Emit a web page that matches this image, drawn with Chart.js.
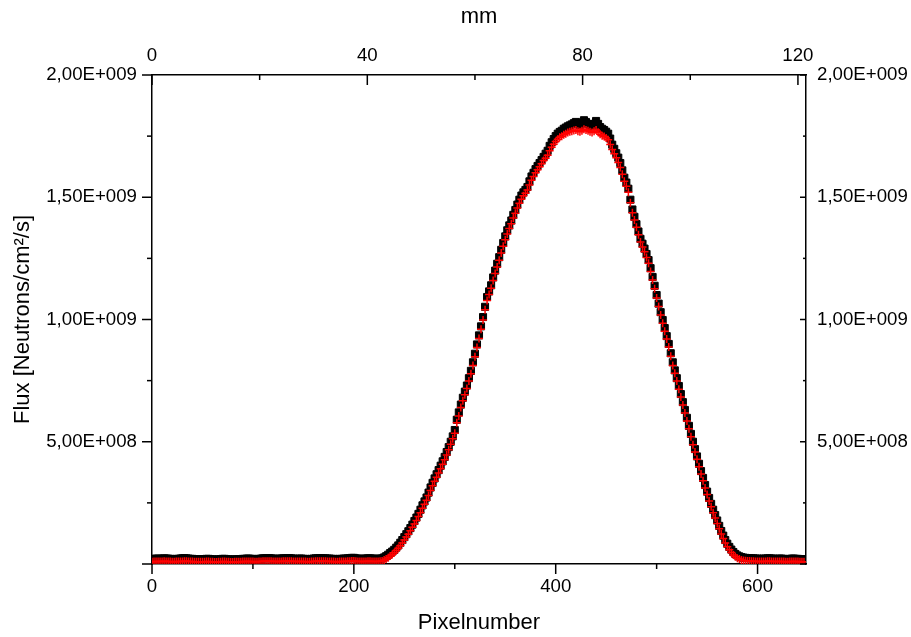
<!DOCTYPE html>
<html>
<head>
<meta charset="utf-8">
<script src="https://cdn.jsdelivr.net/npm/chart.js@4/dist/chart.umd.min.js"></script>
<style>
  html, body { margin: 0; padding: 0; background: #fff; }
  #wrap { width: 911px; height: 637px; position: relative; }
</style>
</head>
<body>
<div id="wrap"><canvas id="c"></canvas></div>
<script>
// ---- data ----
const pixels = [
0,2,4,6,8,10,12,14,16,18,
20,22,24,26,28,30,32,34,36,38,
40,42,44,46,48,50,52,54,56,58,
60,62,64,66,68,70,72,74,76,78,
80,82,84,86,88,90,92,94,96,98,
100,102,104,106,108,110,112,114,116,118,
120,122,124,126,128,130,132,134,136,138,
140,142,144,146,148,150,152,154,156,158,
160,162,164,166,168,170,172,174,176,178,
180,182,184,186,188,190,192,194,196,198,
200,202,204,206,208,210,212,214,216,218,
220,222,224,226,228,230,232,234,236,238,
240,242,244,246,248,250,252,254,256,258,
260,262,264,266,268,270,272,274,276,278,
280,282,284,286,288,290,292,294,296,298,
300,302,304,306,308,310,312,314,316,318,
320,322,324,326,328,330,332,334,336,338,
340,342,344,346,348,350,352,354,356,358,
360,362,364,366,368,370,372,374,376,378,
380,382,384,386,388,390,392,394,396,398,
400,402,404,406,408,410,412,414,416,418,
420,422,424,426,428,430,432,434,436,438,
440,442,444,446,448,450,452,454,456,458,
460,462,464,466,468,470,472,474,476,478,
480,482,484,486,488,490,492,494,496,498,
500,502,504,506,508,510,512,514,516,518,
520,522,524,526,528,530,532,534,536,538,
540,542,544,546,548,550,552,554,556,558,
560,562,564,566,568,570,572,574,576,578,
580,582,584,586,588,590,592,594,596,598,
600,602,604,606,608,610,612,614,616,618,
620,622,624,626,628,630,632,634,636,638,
640,642,644,646];

// flux, black square series
const fluxBlack = [
20e6,21e6,22e6,22e6,21e6,22e6,23e6,22e6,22e6,21e6,
20e6,20e6,21e6,21e6,22e6,23e6,24e6,23e6,22e6,21e6,
21e6,20e6,20e6,19e6,19e6,20e6,20e6,21e6,21e6,20e6,
19e6,18e6,18e6,19e6,20e6,21e6,21e6,20e6,19e6,18e6,
18e6,19e6,19e6,20e6,20e6,21e6,21e6,22e6,22e6,21e6,
21e6,20e6,20e6,21e6,22e6,23e6,23e6,24e6,24e6,23e6,
22e6,21e6,21e6,22e6,22e6,23e6,23e6,24e6,24e6,23e6,
22e6,21e6,21e6,22e6,22e6,21e6,21e6,20e6,20e6,21e6,
22e6,23e6,23e6,24e6,24e6,23e6,23e6,22e6,22e6,21e6,
21e6,20e6,20e6,21e6,21e6,22e6,22e6,23e6,24e6,25e6,
25e6,23e6,22e6,21e6,21e6,22e6,22e6,23e6,23e6,22e6,
22e6,21e6,21e6,22e6,23e6,27e6,32e6,38e6,45e6,51e6,
58e6,67e6,76e6,87e6,98e6,110e6,122e6,134e6,147e6,161e6,
176e6,190e6,205e6,222e6,240e6,256e6,272e6,292e6,313e6,332e6,
350e6,367e6,384e6,402e6,420e6,438e6,458e6,478e6,500e6,522e6,
548e6,590e6,620e6,652e6,680e6,705e6,730e6,760e6,790e6,825e6,
860e6,898e6,935e6,972e6,1010e6,1052e6,1092e6,1115e6,1140e6,1172e6,
1200e6,1228e6,1255e6,1285e6,1313e6,1340e6,1365e6,1385e6,1405e6,1428e6,
1448e6,1470e6,1490e6,1507e6,1520e6,1530e6,1542e6,1565e6,1585e6,1600e6,
1615e6,1628e6,1640e6,1652e6,1665e6,1678e6,1690e6,1710e6,1725e6,1738e6,
1750e6,1760e6,1767e6,1772e6,1780e6,1785e6,1790e6,1794e6,1798e6,1803e6,
1808e6,1800e6,1795e6,1805e6,1815e6,1808e6,1800e6,1795e6,1790e6,1800e6,
1812e6,1800e6,1787e6,1780e6,1775e6,1768e6,1760e6,1740e6,1715e6,1698e6,
1680e6,1662e6,1640e6,1610e6,1580e6,1560e6,1535e6,1490e6,1450e6,1420e6,
1390e6,1360e6,1330e6,1310e6,1290e6,1268e6,1243e6,1210e6,1174e6,1138e6,
1100e6,1065e6,1030e6,998e6,965e6,932e6,900e6,862e6,825e6,792e6,
760e6,728e6,695e6,662e6,630e6,598e6,565e6,532e6,500e6,470e6,
440e6,410e6,380e6,352e6,323e6,296e6,270e6,246e6,222e6,200e6,
178e6,156e6,135e6,116e6,98e6,83e6,70e6,59e6,49e6,41e6,
35e6,31e6,28e6,26e6,25e6,24e6,24e6,23e6,23e6,22e6,
22e6,21e6,21e6,22e6,22e6,23e6,23e6,22e6,22e6,21e6,
21e6,22e6,22e6,21e6,20e6,20e6,21e6,22e6,22e6,21e6,
21e6,20e6,20e6,19e6];

// flux, red marker series
const fluxRed = [
9e6,10e6,10e6,10e6,10e6,10e6,11e6,10e6,10e6,10e6,
9e6,9e6,10e6,10e6,10e6,10e6,11e6,11e6,10e6,10e6,
10e6,9e6,9e6,9e6,9e6,9e6,9e6,10e6,10e6,9e6,
9e6,8e6,8e6,9e6,9e6,10e6,10e6,9e6,9e6,8e6,
8e6,9e6,9e6,9e6,9e6,10e6,10e6,10e6,10e6,10e6,
10e6,9e6,9e6,10e6,10e6,11e6,11e6,11e6,11e6,11e6,
10e6,10e6,10e6,10e6,10e6,11e6,11e6,11e6,11e6,11e6,
10e6,10e6,10e6,10e6,10e6,10e6,10e6,9e6,9e6,10e6,
10e6,11e6,11e6,11e6,11e6,11e6,11e6,10e6,10e6,10e6,
10e6,9e6,9e6,10e6,10e6,10e6,10e6,11e6,11e6,12e6,
12e6,11e6,10e6,10e6,10e6,10e6,10e6,11e6,11e6,10e6,
10e6,10e6,10e6,11e6,12e6,16e6,20e6,26e6,33e6,39e6,
46e6,55e6,64e6,75e6,86e6,98e6,110e6,122e6,136e6,150e6,
164e6,178e6,194e6,210e6,228e6,244e6,261e6,280e6,301e6,320e6,
338e6,355e6,372e6,390e6,408e6,426e6,446e6,467e6,490e6,512e6,
535e6,578e6,605e6,640e6,668e6,692e6,718e6,748e6,778e6,812e6,
848e6,885e6,922e6,960e6,998e6,1040e6,1078e6,1102e6,1128e6,1160e6,
1188e6,1215e6,1242e6,1272e6,1300e6,1326e6,1350e6,1372e6,1392e6,1415e6,
1435e6,1456e6,1475e6,1492e6,1506e6,1516e6,1530e6,1550e6,1570e6,1585e6,
1600e6,1612e6,1625e6,1637e6,1650e6,1660e6,1672e6,1690e6,1705e6,1717e6,
1728e6,1737e6,1745e6,1750e6,1756e6,1760e6,1765e6,1768e6,1770e6,1773e6,
1775e6,1770e6,1768e6,1772e6,1778e6,1775e6,1772e6,1768e6,1765e6,1770e6,
1775e6,1766e6,1758e6,1752e6,1748e6,1742e6,1735e6,1716e6,1695e6,1678e6,
1662e6,1642e6,1622e6,1594e6,1565e6,1545e6,1520e6,1478e6,1437e6,1407e6,
1377e6,1347e6,1317e6,1297e6,1277e6,1254e6,1230e6,1196e6,1162e6,1126e6,
1088e6,1053e6,1018e6,985e6,952e6,920e6,888e6,850e6,812e6,780e6,
748e6,715e6,683e6,650e6,618e6,585e6,553e6,520e6,488e6,458e6,
428e6,398e6,368e6,340e6,311e6,284e6,258e6,234e6,210e6,188e6,
166e6,144e6,123e6,104e6,86e6,71e6,58e6,47e6,37e6,30e6,
24e6,20e6,16e6,14e6,13e6,12e6,12e6,11e6,11e6,10e6,
10e6,10e6,10e6,10e6,10e6,11e6,11e6,10e6,10e6,10e6,
10e6,10e6,10e6,10e6,9e6,9e6,10e6,10e6,10e6,10e6,
10e6,9e6,9e6,9e6];

// tick labels
const bottomTickLabels = [0, 200, 400, 600];
const topTickLabels = [0, 40, 80, 120];
const fluxTickLabels = [5e8, 1e9, 1.5e9, 2e9];

// axis ranges
const pixelMax = 648;
const mmMax = 121.5;
const fluxMax = 2e9;

// ---- helpers ----
function fmtSci(v) {
  const e = Math.floor(Math.log10(v) + 1e-9);
  const m = (v / Math.pow(10, e)).toFixed(2).replace('.', ',');
  return m + 'E+' + String(e).padStart(3, '0');
}
const near = (a, b) => Math.abs(a - b) < 1e-6 * Math.max(1, Math.abs(b));
const inList = (v, list) => list.some(x => near(v, x));

const FONT = "'Liberation Sans', Arial, sans-serif";
Chart.defaults.font.family = FONT;
Chart.defaults.color = '#000';

const tickMarks = {
  id: 'tickMarks',
  afterDraw(chart) {
    const ctx = chart.ctx, a = chart.chartArea;
    const {x, x2, y, y2} = chart.scales;
    ctx.save();
    ctx.strokeStyle = '#000';
    ctx.lineWidth = 1.5;
    const seg = (x1, y1, xe, ye) => { ctx.beginPath(); ctx.moveTo(x1, y1); ctx.lineTo(xe, ye); ctx.stroke(); };
    x.ticks.forEach(t => {
      const p = x.getPixelForValue(t.value);
      const len = inList(t.value, bottomTickLabels) ? 10 : 5;
      seg(p, a.bottom, p, a.bottom + len);
    });
    x2.ticks.forEach(t => {
      const p = x2.getPixelForValue(t.value);
      const len = inList(t.value, topTickLabels) ? 10 : 5;
      seg(p, a.top, p, a.top + len);
    });
    y.ticks.forEach(t => {
      const p = y.getPixelForValue(t.value);
      const len = (inList(t.value, fluxTickLabels) || t.value === 0) ? 10 : 5;
      seg(a.left - len, p, a.left, p);
    });
    y2.ticks.forEach(t => {
      const p = y2.getPixelForValue(t.value);
      const len = (inList(t.value, fluxTickLabels) || t.value === 0) ? 6 : 3;
      seg(a.right - len, p, a.right, p);
    });
    ctx.restore();
  }
};

const tickFont = { family: FONT, size: 18.67 };
const titleFont = { family: FONT, size: 22 };
const borderOpt = { display: true, color: '#000', width: 1.5 };
const gridOff = { display: false, drawTicks: false };

new Chart(document.getElementById('c'), {
  type: 'scatter',
  data: {
    datasets: [
      {
        label: 'red',
        data: pixels.map((p, i) => ({ x: p, y: fluxRed[i] })),
        pointStyle: 'cross',
        pointRadius: 4,
        borderColor: '#ff0000',
        backgroundColor: '#ff0000',
        borderWidth: 1.5,
        order: 0,
        xAxisID: 'x', yAxisID: 'y'
      },
      {
        label: 'black',
        data: pixels.map((p, i) => ({ x: p, y: fluxBlack[i] })),
        pointStyle: 'rect',
        pointRadius: 5,
        borderColor: '#000',
        backgroundColor: '#000',
        borderWidth: 1,
        order: 1,
        xAxisID: 'x', yAxisID: 'y'
      }
    ]
  },
  options: {
    responsive: true,
    maintainAspectRatio: false,
    animation: false,
    devicePixelRatio: 1,
    layout: { padding: 0 },
    plugins: { legend: { display: false }, tooltip: { enabled: false } },
    scales: {
      x: {
        type: 'linear', position: 'bottom', min: 0, max: pixelMax,
        grid: gridOff, border: borderOpt,
        ticks: {
          stepSize: 100, includeBounds: false, autoSkip: false, maxRotation: 0,
          font: tickFont, color: '#000', padding: 12,
          callback: v => inList(v, bottomTickLabels) ? String(v) : ''
        },
        title: { display: true, text: 'Pixelnumber', font: titleFont, color: '#000', padding: { top: 0, bottom: 1 } },
        afterFit(s) { s.height = 73; }
      },
      x2: {
        type: 'linear', position: 'top', min: 0, max: mmMax,
        grid: gridOff, border: borderOpt,
        ticks: {
          stepSize: 20, includeBounds: false, autoSkip: false, maxRotation: 0,
          font: tickFont, color: '#000', padding: 8,
          callback: v => inList(v, topTickLabels) ? String(v) : ''
        },
        title: { display: true, text: 'mm', font: titleFont, color: '#000', padding: { top: 4, bottom: 0 } },
        afterFit(s) { s.height = 75; }
      },
      y: {
        type: 'linear', position: 'left', min: 0, max: fluxMax,
        grid: gridOff, border: borderOpt,
        ticks: {
          stepSize: 2.5e8, includeBounds: false, autoSkip: false,
          font: tickFont, color: '#000', padding: 15,
          callback: v => inList(v, fluxTickLabels) ? fmtSci(v) : ''
        },
        title: { display: true, text: 'Flux [Neutrons/cm²/s]', font: titleFont, color: '#000', padding: { top: 10, bottom: 0 } },
        afterFit(s) { s.width = 152; }
      },
      y2: {
        type: 'linear', position: 'right', min: 0, max: fluxMax,
        grid: gridOff, border: borderOpt,
        ticks: {
          stepSize: 2.5e8, includeBounds: false, autoSkip: false,
          font: tickFont, color: '#000', padding: 11,
          callback: v => inList(v, fluxTickLabels) ? fmtSci(v) : ''
        },
        afterFit(s) { s.width = 105; }
      }
    }
  },
  plugins: [tickMarks]
});
</script>
</body>
</html>
